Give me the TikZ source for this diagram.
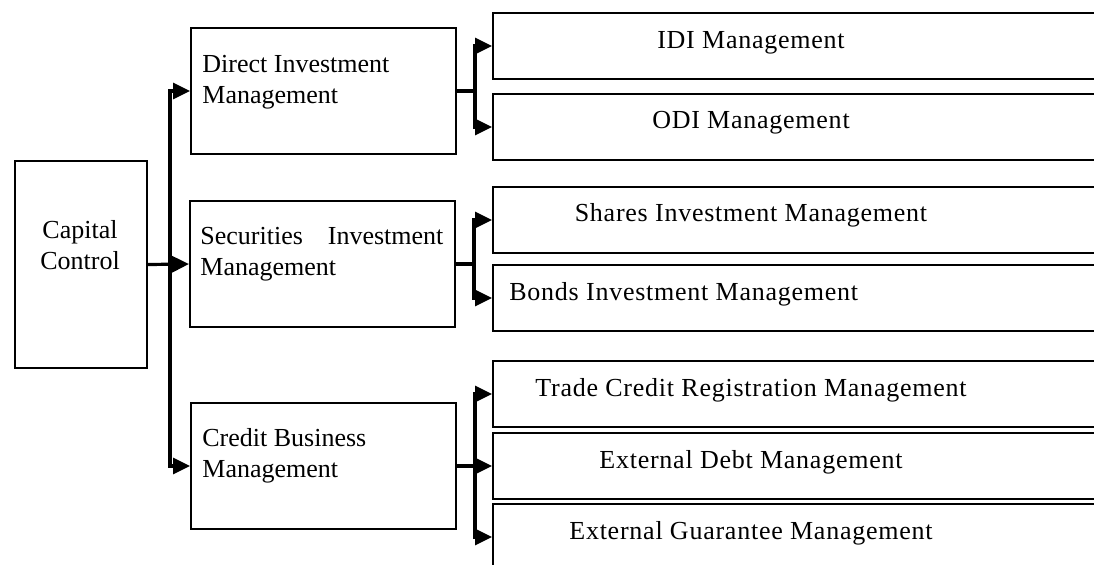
\documentclass[tikz,border=0pt]{standalone}
\usepackage{fontspec}
\setmainfont{Liberation Serif}
\newfontfamily\spacedfont{Liberation Serif}[LetterSpace=2.9]
\usetikzlibrary{arrows.meta}

\begin{document}
\begin{tikzpicture}[x=0.5pt,y=-0.5pt,
  box/.style={draw,line width=1pt,inner sep=0pt,anchor=north west},
  lbox/.style={box,minimum width=132.5pt,minimum height=63pt},
  rbox/.style={box,minimum width=310pt,minimum height=33pt},
  ltxt/.style={anchor=north west,inner sep=0pt,align=left,font=\fontsize{13pt}{15.5pt}\selectfont},
  rtxt/.style={anchor=base,inner sep=0pt,font=\fontsize{13pt}{15.5pt}\selectfont\spacedfont},
  link/.style={line width=1.6pt,-{Triangle[length=8.5pt,width=8pt]}}]
\useasboundingbox (0,0) rectangle (1094,564);
% left column
\node[box,minimum width=66pt,minimum height=103.5pt] (cc) at (14,160) {};
\node[ltxt,anchor=north,align=center] (cc-t) at (80,220) {Capital\\Control};
% middle column
\node[lbox] (dim) at (190,27) {};
\node[lbox] (sim) at (189,200) {};
\node[lbox] (cbm) at (190,402) {};
\node[ltxt] (dim-t) at (202,55) {Direct Investment\\Management};
\node[ltxt] (sim-t) at (200,227) {\makebox[121.5pt][s]{Securities Investment}\\Management};
\node[ltxt] (cbm-t) at (202,428) {Credit Business\\Management};
% right column
\node[rbox] (idi) at (492,12) {};
\node[rbox] (odi) at (492,93) {};
\node[rbox] (shr) at (492,186) {};
\node[rbox] (bnd) at (492,264) {};
\node[rbox] (tcr) at (492,360) {};
\node[rbox] (edm) at (492,432) {};
\node[rbox] (egm) at (492,503) {};
\node[rtxt] (idi-t) at (751,48) {IDI Management};
\node[rtxt] (odi-t) at (751,128) {ODI Management};
\node[rtxt] (shr-t) at (751,221) {Shares Investment Management};
\node[rtxt,anchor=base west] (bnd-t) at (509,300) {Bonds Investment Management};
\node[rtxt] (tcr-t) at (751,396) {Trade Credit Registration Management};
\node[rtxt] (edm-t) at (751,468) {External Debt Management};
\node[rtxt] (egm-t) at (751,539) {External Guarantee Management};
% links
\draw[link] (cc.east) -- (sim.west);
\draw[link] (cc.east) -- ++(22,0) |- (dim.west);
\draw[link] (cc.east) -- ++(22,0) |- (cbm.west);
\draw[link] (dim.east) -- ++(18,0) |- (idi.west);
\draw[link] (dim.east) -- ++(18,0) |- (odi.west);
\draw[link] (sim.east) -- ++(18,0) |- (shr.west);
\draw[link] (sim.east) -- ++(18,0) |- (bnd.west);
\draw[link] (cbm.east) -- ++(18,0) |- (tcr.west);
\draw[link] (cbm.east) -- ++(18,0) |- (edm.west);
\draw[link] (cbm.east) -- ++(18,0) |- (egm.west);
\end{tikzpicture}
\end{document}
